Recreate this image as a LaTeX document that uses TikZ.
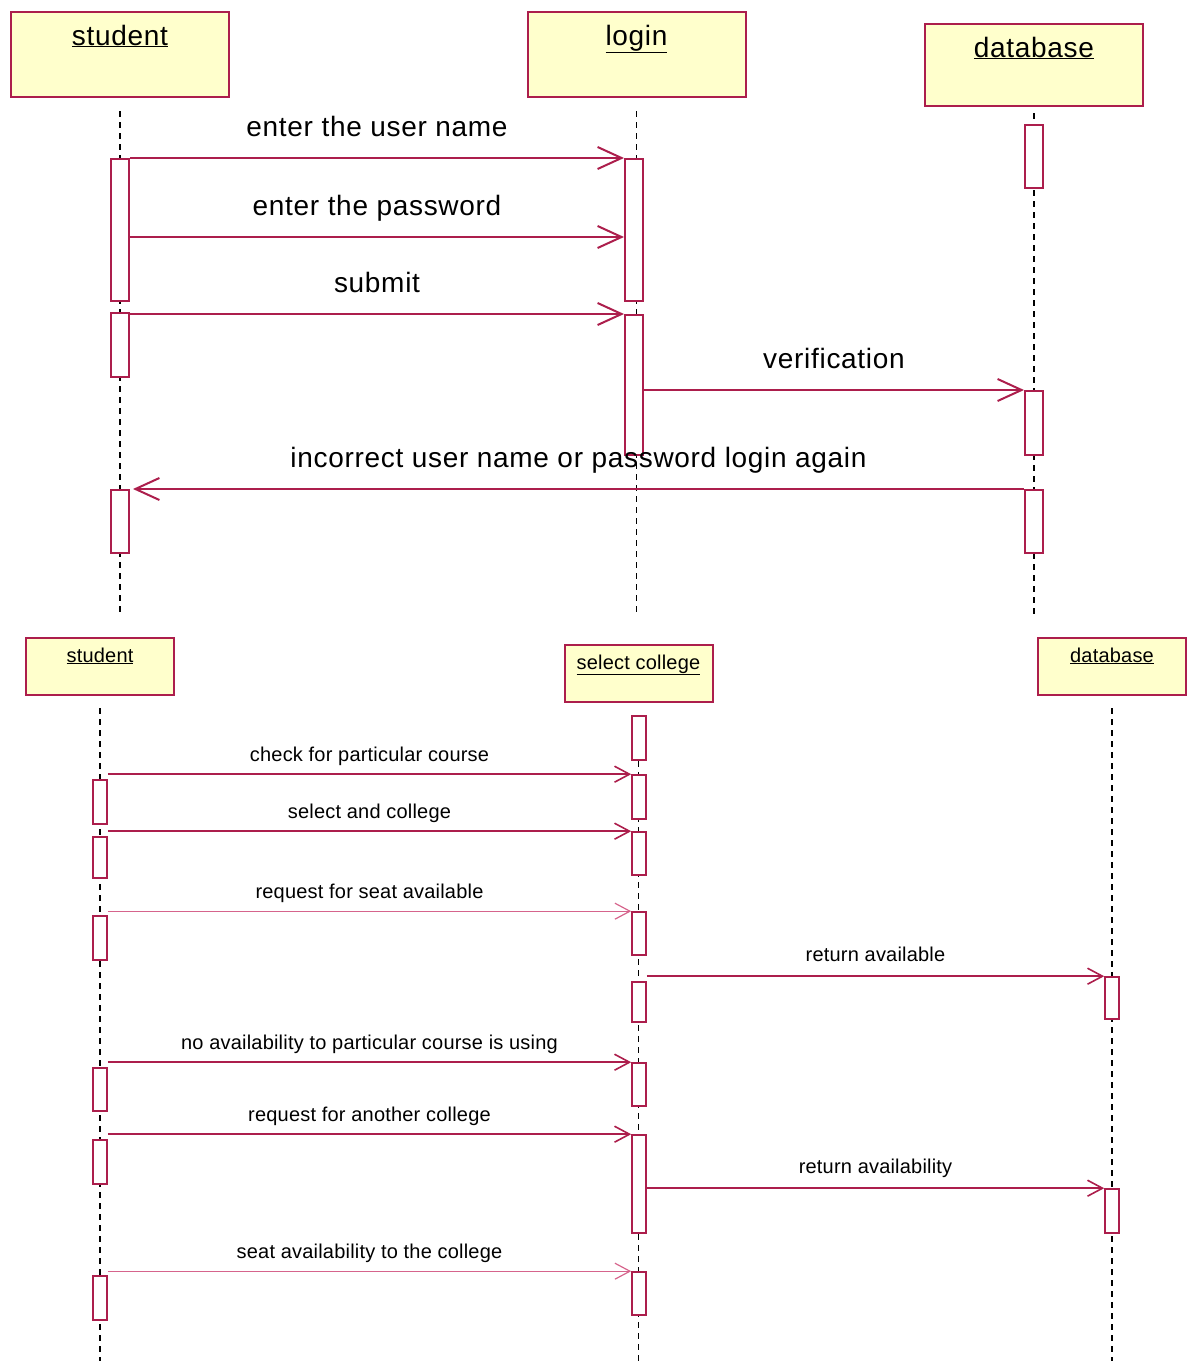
\documentclass[tikz,border=0pt]{standalone}
\usepackage{fontspec}
\setmainfont{Liberation Sans}
\usetikzlibrary{arrows.meta}
\definecolor{umlred}{RGB}{172,30,76}
\definecolor{umlpink}{RGB}{214,100,140}
\definecolor{umlfill}{RGB}{255,255,204}
\begin{document}
\begin{tikzpicture}[
  x=1pt, y=-1pt,
  bigfont/.style={font=\fontsize{28}{32}\selectfont\addfontfeatures{LetterSpace=2.5}},
  smallfont/.style={font=\fontsize{20}{24}\selectfont\addfontfeatures{LetterSpace=1}},
  objA/.style={draw=umlred,fill=umlfill,line width=2pt,inner sep=0pt,minimum width=218pt,text height=33pt,bigfont},
  objB/.style={draw=umlred,fill=umlfill,line width=2pt,inner sep=0pt,minimum width=148pt,text height=24pt,text depth=33pt,smallfont},
  actA/.style={draw=umlred,fill=white,line width=2pt,inner sep=0pt,minimum width=18pt},
  actB/.style={draw=umlred,fill=white,line width=1.6pt,inner sep=0pt,minimum width=14pt},
  life/.style={draw=black,line width=1.6pt,dash pattern=on 6pt off 5pt},
  msgA/.style={draw=umlred,line width=2pt,-{Straight Barb[length=24pt,width=22pt]}},
  msgB/.style={draw=umlred,line width=1.6pt,-{Straight Barb[length=15pt,width=16pt]}},
  msgC/.style={msgB,draw=umlpink,line width=1.2pt},
  lblA/.style={midway,anchor=base,yshift=22pt,inner sep=0pt,bigfont},
  lblB/.style={midway,anchor=base,yshift=13pt,inner sep=0pt,smallfont},
]
\useasboundingbox (0,0) rectangle (1190,1361);

% ---- Login sequence (top)
\node[objA,text depth=52pt] (stuA) at (120,54.5) {\underline{student}};
\node[objA,text depth=52pt] (logA) at (636.5,54.5) {\underline{login}};
\node[objA,text depth=49pt] (datA) at (1034,65) {\underline{database}};

\coordinate (endA) at (0,615);
\draw[life] ([yshift=-13pt]stuA.south) -- (stuA |- endA);
\draw[life] ([yshift=-13pt]logA.south) -- (logA |- endA);
\draw[life] ([yshift=-6pt]datA.south) -- (datA |- endA);

% ---- Activations (top)
\node[actA,minimum height=142pt] (sa1) at (120,230) {};
\node[actA,minimum height=64pt]  (sa2) at (120,345) {};
\node[actA,minimum height=63pt]  (sa3) at (120,521.5) {};
\node[actA,minimum height=142pt] (la1) at (634,230) {};
\node[actA,minimum height=140pt] (la2) at (634,385) {};
\node[actA,minimum height=63pt]  (da1) at (1034,156.5) {};
\node[actA,minimum height=64pt]  (da2) at (1034,423) {};
\node[actA,minimum height=63pt]  (da3) at (1034,521.5) {};

% ---- Messages (top)
\coordinate (m2) at (0,237);
\draw[msgA] (sa1.north east) -- node[lblA] (t1) {enter the user name} (la1.north west);
\draw[msgA] (sa1.east |- m2) -- node[lblA] (t2) {enter the password} (la1.west |- m2);
\draw[msgA] (sa2.east |- la2.north) -- node[lblA] (t3) {submit} (la2.north west);
\draw[msgA] (la2.east |- da2.north) -- node[lblA] (t4) {verification} (da2.north west);
\draw[msgA] (da3.north west) -- node[lblA] (t5) {incorrect user name or password login again} ([xshift=3pt]sa3.north east);

% ---- College selection sequence (bottom)
\node[objB] (stuB) at (100,666.5) {\underline{student}};
\node[objB] (selB) at (638.5,673.5) {\underline{select college}};
\node[objB] (datB) at (1112,666.5) {\underline{database}};

\coordinate (endB) at (0,1361);
\draw[life] ([yshift=-12pt]stuB.south) -- (stuB |- endB);
\draw[life] ([yshift=-14pt]selB.south) -- (selB |- endB);
\draw[life] ([yshift=-12pt]datB.south) -- (datB |- endB);

% ---- Activations (bottom)
\node[actB,minimum height=44pt] (sc1) at (639,738) {};
\node[actB,minimum height=44pt] (sc2) at (639,797) {};
\node[actB,minimum height=43pt] (sc3) at (639,853.5) {};
\node[actB,minimum height=43pt] (sc4) at (639,933.5) {};
\node[actB,minimum height=40pt] (sc5) at (639,1002) {};
\node[actB,minimum height=43pt] (sc6) at (639,1084.5) {};
\node[actB,minimum height=98pt] (sc7) at (639,1184) {};
\node[actB,minimum height=43pt] (sc8) at (639,1293.5) {};
\node[actB,minimum height=44pt] (sb1) at (100,802) {};
\node[actB,minimum height=41pt] (sb2) at (100,857.5) {};
\node[actB,minimum height=44pt] (sb3) at (100,938) {};
\node[actB,minimum height=43pt] (sb4) at (100,1089.5) {};
\node[actB,minimum height=44pt] (sb5) at (100,1162) {};
\node[actB,minimum height=44pt] (sb6) at (100,1298) {};
\node[actB,minimum height=42pt] (db1) at (1112,998) {};
\node[actB,minimum height=44pt] (db2) at (1112,1211) {};

% ---- Messages (bottom)
\draw[msgB] (sb1.east |- sc2.north) -- node[lblB] (b1) {check for particular course} (sc2.north west);
\draw[msgB] (sb2.east |- sc3.north) -- node[lblB] (b2) {select and college} (sc3.north west);
\draw[msgC] (sb3.east |- sc4.north) -- node[lblB] (b3) {request for seat available} (sc4.north west);
\draw[msgB] (sc5.east |- db1.north) -- node[lblB,yshift=2pt] (b4) {return available} (db1.north west);
\draw[msgB] (sb4.east |- sc6.north) -- node[lblB] (b5) {no availability to particular course is using} (sc6.north west);
\draw[msgB] (sb5.east |- sc7.north) -- node[lblB] (b6) {request for another college} (sc7.north west);
\draw[msgB] (sc7.east |- db2.north) -- node[lblB,yshift=2pt] (b7) {return availability} (db2.north west);
\draw[msgC] (sb6.east |- sc8.north) -- node[lblB] (b8) {seat availability to the college} (sc8.north west);

\end{tikzpicture}
\end{document}
